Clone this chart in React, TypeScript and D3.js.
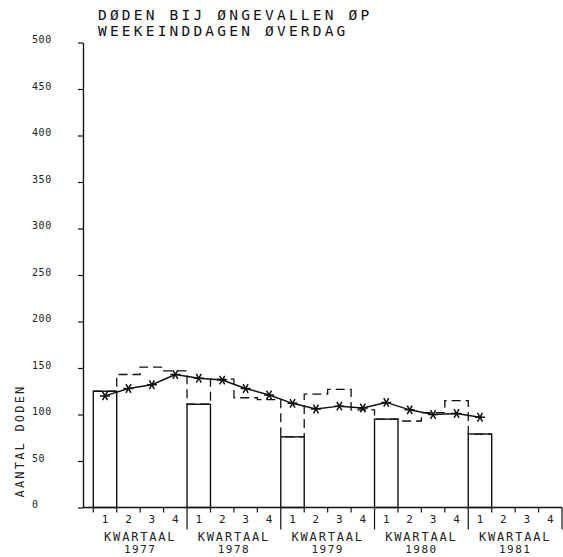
import React, { useEffect, useRef } from 'react';
import * as d3 from 'd3';

// kwartalen 1977 t/m 1981
const years = ['1977', '1978', '1979', '1980', '1981'];
const quarterLabels = ['1', '2', '3', '4'];
const yTicks = [0, 50, 100, 150, 200, 250, 300, 350, 400, 450, 500];

// aantal doden per kwartaal (1977-1 .. 1981-1)
const quarterValues = [125, 143, 151, 147, 111, 138, 118, 116, 76, 122, 127, 105, 95, 93, 102, 115, 79];
// voortschrijdend gemiddelde (sterretjes)
const trendValues = [120, 128, 132, 143, 139, 137, 128, 121, 112, 106, 109, 107, 113, 105, 100, 101, 97];

const titleLines = ['DØDEN BIJ ØNGEVALLEN ØP', 'WEEKEINDDAGEN ØVERDAG'];
const yTitle = 'AANTAL DODEN';
const xTitle = 'KWARTAAL';

function App() {
    const ref = useRef<SVGSVGElement>(null);
    const width = 563;
    const height = 557;

    useEffect(() => {
        drawChart();
    }, []);

    function drawChart() {
        const svg = d3.select(ref.current);
        svg.selectAll('*').remove();

        const font = "'DejaVu Sans Mono', monospace";
        const axisX = 83;
        const nQ = years.length * 4;

        const x = d3.scaleLinear()
            .domain([0, nQ])
            .range([93.3, 562]);

        const y = d3.scaleLinear()
            .domain([0, 500])
            .range([507.5, 42.5]);

        // titel
        svg.append('g')
            .selectAll('text')
            .data(titleLines)
            .join('text')
            .attr('x', 98)
            .attr('y', (d, i) => 20 + i * 16)
            .attr('font-family', font)
            .attr('font-size', 14.5)
            .attr('letter-spacing', 3.2)
            .attr('fill', '#111')
            .text(d => d);

        // y-as
        const yAxis = svg.append('g')
            .attr('transform', `translate(${axisX},0)`)
            .call(d3.axisLeft(y).tickValues(yTicks).tickSize(5).tickSizeOuter(0).tickFormat(d3.format('d')));
        yAxis.select('.domain').attr('stroke', '#111').attr('stroke-width', 1.4);
        yAxis.selectAll('.tick line').attr('stroke', '#111').attr('stroke-width', 1.2);
        yAxis.selectAll('.tick text')
            .attr('x', 32 - axisX)
            .attr('y', -3)
            .attr('text-anchor', 'start')
            .attr('font-family', font)
            .attr('font-size', 10)
            .attr('letter-spacing', 0.6)
            .attr('fill', '#222');

        svg.append('text')
            .attr('transform', `translate(24,${441}) rotate(-90)`)
            .attr('text-anchor', 'middle')
            .attr('font-family', font)
            .attr('font-size', 12)
            .attr('letter-spacing', 2.2)
            .attr('fill', '#222')
            .text(yTitle);

        // x-as
        const xg = svg.append('g').attr('stroke', '#111');
        xg.append('line')
            .attr('x1', axisX).attr('x2', x(nQ))
            .attr('y1', y(0)).attr('y2', y(0))
            .attr('stroke-width', 1.4);
        xg.selectAll('line.q')
            .data(d3.range(nQ + 1))
            .join('line')
            .attr('class', 'q')
            .attr('x1', i => x(i)).attr('x2', i => x(i))
            .attr('y1', y(0))
            .attr('y2', i => (i % 4 === 0 && i > 0 ? y(0) + 22 : y(0) + 5))
            .attr('stroke-width', 1.2);

        const qLabels = d3.range(nQ).map(i => ({ i, label: quarterLabels[i % 4] }));
        svg.append('g')
            .selectAll('text')
            .data(qLabels)
            .join('text')
            .attr('x', d => x(d.i + 0.5))
            .attr('y', 523)
            .attr('text-anchor', 'middle')
            .attr('font-family', font)
            .attr('font-size', 11)
            .attr('fill', '#222')
            .text(d => d.label);

        const yearG = svg.append('g')
            .selectAll('g')
            .data(years)
            .join('g')
            .attr('transform', (d, i) => `translate(${x(i * 4 + 2)},0)`);
        yearG.append('text')
            .attr('y', 541)
            .attr('text-anchor', 'middle')
            .attr('font-family', font)
            .attr('font-size', 12)
            .attr('letter-spacing', 1.8)
            .attr('fill', '#222')
            .text(xTitle);
        yearG.append('text')
            .attr('y', 553)
            .attr('text-anchor', 'middle')
            .attr('font-family', font)
            .attr('font-size', 11)
            .attr('letter-spacing', 1.5)
            .attr('fill', '#222')
            .text(d => d);

        // gestreepte trap per kwartaal
        const stepPts: [number, number][] = quarterValues.map((v, i) => [x(i), y(v)]);
        stepPts.push([x(quarterValues.length), y(quarterValues[quarterValues.length - 1])]);
        const step = d3.line().curve(d3.curveStepAfter);
        svg.append('path')
            .attr('d', step(stepPts))
            .attr('fill', 'none')
            .attr('stroke', '#111')
            .attr('stroke-width', 1.3)
            .attr('stroke-dasharray', '9,5');

        // eerste kwartalen als staaf
        const q1 = quarterValues.map((v, i) => ({ v, i })).filter(d => d.i % 4 === 0);
        svg.append('g')
            .selectAll('rect')
            .data(q1)
            .join('rect')
            .attr('x', d => x(d.i))
            .attr('y', d => y(d.v))
            .attr('width', d => x(d.i + 1) - x(d.i))
            .attr('height', d => y(0) - y(d.v))
            .attr('fill', 'none')
            .attr('stroke', '#111')
            .attr('stroke-width', 1.4);

        // trendlijn met sterretjes
        const line = d3.line<number>()
            .x((d, i) => x(i + 0.5))
            .y(d => y(d));
        svg.append('path')
            .attr('d', line(trendValues))
            .attr('fill', 'none')
            .attr('stroke', '#111')
            .attr('stroke-width', 1.5);

        svg.append('g')
            .selectAll('path')
            .data(trendValues)
            .join('path')
            .attr('transform', (d, i) => `translate(${x(i + 0.5)},${y(d)}) rotate(90)`)
            .attr('d', d3.symbol(d3.symbolAsterisk, 70)())
            .attr('fill', 'none')
            .attr('stroke', '#111')
            .attr('stroke-width', 1.5);
    }

    return (
        <svg
            ref={ref}
            width={width}
            height={height}
            style={{ position: 'absolute', left: 0, top: 0, background: '#fff' }}
        />
    );
}

export default App;
